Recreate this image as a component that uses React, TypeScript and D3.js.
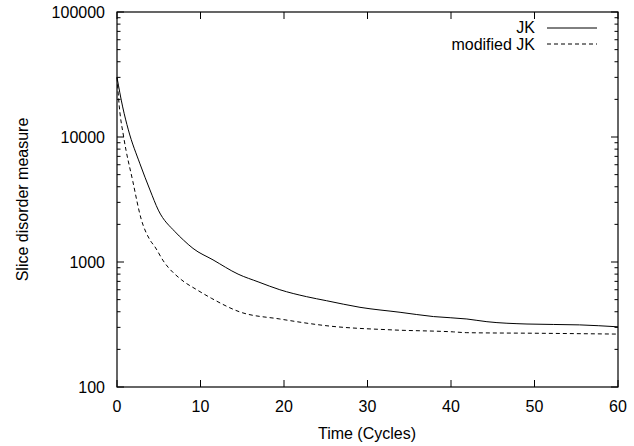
import React from "react";
import * as d3 from "d3";

const jkTime = [0, 0.68, 1.36, 2.75, 3.95, 4.95, 6.95, 7.95, 9.1, 11.5, 14.5, 17, 19.5, 22.7, 25.1, 29.1, 33.9, 37.9, 41.9, 44.3, 49.1, 55.4, 60];
const jkValue = [30000, 17400, 11400, 6100, 3770, 2600, 1746, 1500, 1285, 1040, 800, 690, 600, 528, 490, 434, 396, 366, 350, 333, 319, 314, 303];

const modTime = [0, 0.28, 0.8, 1.9, 2.9, 3.95, 4.55, 5.55, 7.75, 9.5, 11.3, 14.7, 19.5, 25.5, 33.1, 40.3, 41.9, 50.7, 60];
const modValue = [30000, 17400, 10000, 4400, 2200, 1500, 1320, 1020, 718, 603, 513, 399, 350, 307, 286, 276, 272, 269, 265];

const xTicks = [0, 10, 20, 30, 40, 50, 60];
const yTicks = [100, 1000, 10000, 100000];

const W = 634, H = 446;
const left = 117, right = 618, top = 12, bottom = 387;

export default function App() {
  const x = d3.scaleLinear().domain([0, 60]).range([left, right]);
  const y = d3.scaleLog().domain([100, 100000]).range([bottom, top]);
  const line = d3.line<[number, number]>().x(d => x(d[0])).y(d => y(d[1])).curve(d3.curveMonotoneX);
  const jk = jkTime.map((t, i) => [t, jkValue[i]] as [number, number]);
  const mod = modTime.map((t, i) => [t, modValue[i]] as [number, number]);
  const minor: number[] = [];
  for (let dec = 100; dec < 100000; dec *= 10) for (let k = 2; k <= 9; k++) minor.push(dec * k);
  const font = "Liberation Sans, Arial, Helvetica, sans-serif";
  return (
    <svg width={W} height={H} style={{ position: "absolute", left: 0, top: 0, background: "#fff" }} fontFamily={font}>
      {xTicks.map(t => (
        <g key={"x" + t}>
          <line x1={x(t)} x2={x(t)} y1={bottom} y2={bottom - 7} stroke="#000" />
          <line x1={x(t)} x2={x(t)} y1={top} y2={top + 7} stroke="#000" />
          <text x={x(t)} y={406} fontSize={16} textAnchor="middle" dominantBaseline="central">{t}</text>
        </g>
      ))}
      {yTicks.map(t => (
        <g key={"y" + t}>
          <line x1={left} x2={left + 7} y1={y(t)} y2={y(t)} stroke="#000" />
          <line x1={right} x2={right - 7} y1={y(t)} y2={y(t)} stroke="#000" />
          <text x={105} y={y(t)} fontSize={16} textAnchor="end" dominantBaseline="central">{t}</text>
        </g>
      ))}
      {minor.map(t => (
        <g key={"m" + t}>
          <line x1={left} x2={left + 3.5} y1={y(t)} y2={y(t)} stroke="#000" />
          <line x1={right} x2={right - 3.5} y1={y(t)} y2={y(t)} stroke="#000" />
        </g>
      ))}
      <path d={line(jk) ?? ""} fill="none" stroke="#000" strokeWidth={1} />
      <path d={line(mod) ?? ""} fill="none" stroke="#000" strokeWidth={1} strokeDasharray="4,3" />
      <rect x={left} y={top} width={right - left} height={bottom - top} fill="none" stroke="#000" strokeWidth={1.2} />
      <text x={535} y={27} fontSize={16} textAnchor="end" dominantBaseline="central">JK</text>
      <line x1={547} x2={597} y1={28} y2={28} stroke="#000" />
      <text x={535} y={44} fontSize={16} textAnchor="end" dominantBaseline="central">modified JK</text>
      <line x1={547} x2={597} y1={44} y2={44} stroke="#000" strokeDasharray="4,3" />
      <text x={367} y={433} fontSize={16} textAnchor="middle" dominantBaseline="central">Time (Cycles)</text>
      <text transform={`translate(22,${(top + bottom) / 2}) rotate(-90)`} fontSize={16} textAnchor="middle" dominantBaseline="central">Slice disorder measure</text>
    </svg>
  );
}
